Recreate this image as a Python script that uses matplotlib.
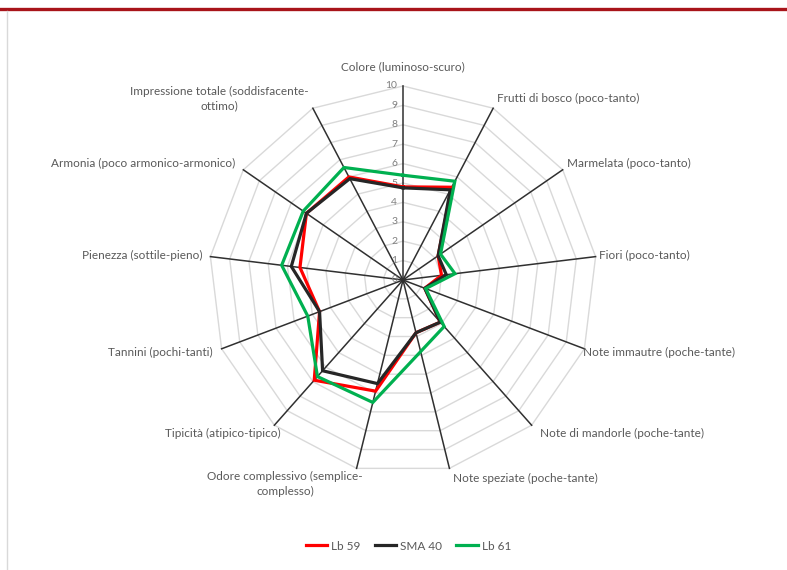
import numpy as np
import matplotlib.pyplot as plt
from matplotlib.lines import Line2D

plt.rcParams['font.family'] = ['Lato', 'DejaVu Sans']

# axis labels, clockwise from the top
labels = ['Colore (luminoso-scuro)',
          'Frutti di bosco (poco-tanto)',
          'Marmelata (poco-tanto)',
          'Fiori (poco-tanto)',
          'Note immautre (poche-tante)',
          'Note di mandorle (poche-tante)',
          'Note speziate (poche-tante)',
          'Odore complessivo (semplice-\ncomplesso)',
          'Tipicità (atipico-tipico)',
          'Tannini (pochi-tanti)',
          'Pienezza (sottile-pieno)',
          'Armonia (poco armonico-armonico)',
          'Impressione totale (soddisfacente-\nottimo)']

series_names = ['Lb 59', 'SMA 40', 'Lb 61']
lb59 = [4.8, 5.4, 2.2, 2.0, 1.2, 2.9, 2.8, 5.9, 6.9, 4.6, 5.35, 6.05, 6.0]
sma40 = [4.75, 5.25, 2.2, 2.25, 1.2, 2.9, 2.8, 5.5, 6.25, 4.6, 5.8, 6.05, 5.9]
lb61 = [5.4, 5.75, 2.35, 2.7, 1.25, 3.2, 3.8, 6.5, 6.65, 5.25, 6.3, 6.25, 6.55]
colors = ['#FF0000', '#262626', '#00B050']
ticks = list(range(0, 11))

n = len(labels)
ang = np.arange(n) * 2 * np.pi / n
sx, cy = np.sin(ang), np.cos(ang)

W, H = 787, 570
fig = plt.figure(figsize=(W / 100, H / 100), dpi=100)
ax = fig.add_axes([0, 0, 1, 1])

# centre of the web at pixel (403, 280), 19.4 px per unit
unit = 19.4
cx_px, cy_px = 403, 280
ax.set_xlim(-cx_px / unit, (W - cx_px) / unit)
ax.set_ylim(-(H - cy_px) / unit, cy_px / unit)
ax.axis('off')

txt_col = '#595959'

# polygon grid
for t in ticks[1:]:
    ax.plot(np.append(t * sx, t * sx[0]), np.append(t * cy, t * cy[0]),
            color='#d9d9d9', lw=1.0, zorder=1)

# spokes
rmax = ticks[-1]
for i in range(n):
    ax.plot([0, rmax * sx[i]], [0, rmax * cy[i]], color='#303030',
            lw=1.1, zorder=2)

# tick labels along the top spoke
for t in ticks:
    ax.text(-0.3, t, str(t), ha='right', va='center', fontsize=7.5,
            color='#7f7f7f', zorder=3)

# small per-label nudges in pixels (Excel places them a bit unevenly)
nudge = [(0, 0), (0, 0), (0, 0), (0, 0), (-5, 0), (4, 0), (0, 0),
         (10, -5), (10, 0), (-5, 0), (-4, 0), (-4, 0), (0, 0)]

# category labels
for i in range(n):
    x = rmax * sx[i]
    y = rmax * cy[i] + 0.55 * cy[i]
    if abs(sx[i]) < 0.05:
        ha = 'center'
        y = rmax + 1.0
    elif sx[i] > 0:
        ha = 'left'
        x += 0.2
    else:
        ha = 'right'
        x -= 0.2
    x += nudge[i][0] / unit
    y += nudge[i][1] / unit
    ax.text(x, y, labels[i], ha=ha, va='center', ma='center',
            fontsize=8.5, color=txt_col, linespacing=1.4)

# data series
for vals, c, name in zip([lb59, sma40, lb61], colors, series_names):
    v = np.array(vals)
    ax.plot(np.append(v * sx, v[0] * sx[0]), np.append(v * cy, v[0] * cy[0]),
            color=c, lw=2.3, label=name, zorder=4, solid_joinstyle='miter')

leg = ax.legend(loc='center', bbox_to_anchor=(0.519, 1 - 546 / H), ncol=3,
                frameon=False, fontsize=8.5, handlelength=1.8,
                handletextpad=0.35, columnspacing=1.2)
for t in leg.get_texts():
    t.set_color(txt_col)

# frame bits from the original page
fig.add_artist(Line2D([0, 1], [1 - 8.5 / H, 1 - 8.5 / H], color='#A8141A',
                      lw=2.4, transform=fig.transFigure))
fig.add_artist(Line2D([7 / W, 7 / W], [0, 1 - 11 / H], color='#d9d9d9',
                      lw=1.0, transform=fig.transFigure))

fig.savefig('out.png', dpi=100)
